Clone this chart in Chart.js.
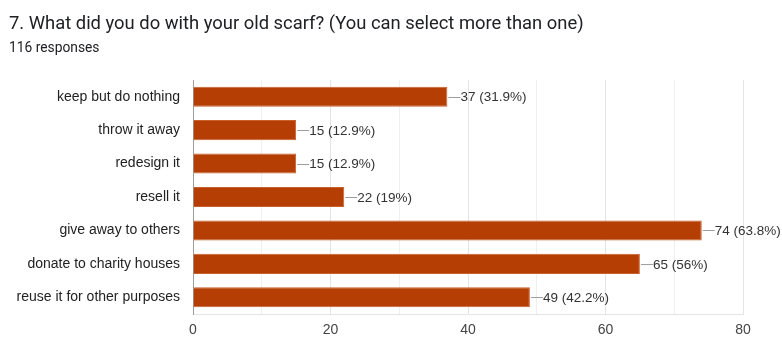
<!DOCTYPE html>
<html>
<head>
<meta charset="utf-8">
<script src="https://cdn.jsdelivr.net/npm/chart.js@4.4.1/dist/chart.umd.min.js"></script>
<style>
html,body{margin:0;padding:0;background:#fff;}
body{width:782px;height:338px;position:relative;overflow:hidden;font-family:Roboto,"Liberation Sans",Arial,sans-serif;}
#title{position:absolute;left:9px;top:12px;font-size:18.4px;color:#202124;white-space:nowrap;}
#sub{position:absolute;left:9px;top:39px;font-size:13.8px;color:#202124;white-space:nowrap;}
#wrap{position:absolute;left:0;top:0;width:782px;height:338px;}
</style>
</head>
<body>
<div id="wrap"><canvas id="c" width="782" height="338"></canvas></div>
<div id="title">7. What did you do with your old scarf? (You can select more than one)</div>
<div id="sub">116 responses</div>
<script>
const categories = ["keep but do nothing","throw it away","redesign it","resell it","give away to others","donate to charity houses","reuse it for other purposes"];
const counts = [37,15,15,22,74,65,49];
const percentLabels = ["31.9%","12.9%","12.9%","19%","63.8%","56%","42.2%"];
const xTicks = [0,20,40,60,80];
const FONT = '"Liberation Sans", Arial, sans-serif';

const valueLabels = {
  id:'valueLabels',
  afterDatasetsDraw(chart){
    const ctx = chart.ctx;
    const meta = chart.getDatasetMeta(0);
    ctx.save();
    ctx.font = '13.5px ' + FONT;
    ctx.textBaseline = 'middle';
    ctx.textAlign = 'left';
    meta.data.forEach((bar,i)=>{
      const x = bar.x, y = bar.y;
      ctx.strokeStyle = '#9e9e9e';
      ctx.lineWidth = 1;
      ctx.beginPath();
      ctx.moveTo(x+1, Math.round(y)+0.5);
      ctx.lineTo(x+13, Math.round(y)+0.5);
      ctx.stroke();
      ctx.fillStyle = '#333333';
      ctx.fillText(counts[i] + ' (' + percentLabels[i] + ')', x+13, y+1);
    });
    ctx.restore();
  }
};

new Chart(document.getElementById('c'), {
  type:'bar',
  data:{
    labels: categories,
    datasets:[{
      data: counts,
      backgroundColor:'#b43e04',
      borderColor:'#c8602e',
      borderWidth:1,
      borderSkipped:'left',
      barPercentage:0.6,
      categoryPercentage:1.0
    }]
  },
  options:{
    indexAxis:'y',
    responsive:false,
    animation:false,
    devicePixelRatio:1,
    layout:{padding:{top:80,right:39,bottom:0,left:0}},
    plugins:{legend:{display:false},tooltip:{enabled:false}},
    scales:{
      x:{
        min:0,max:80,
        ticks:{
          stepSize:10,
          autoSkip:false,
          maxRotation:0,
          padding:8,
          color:'#444',
          font:{family:FONT,size:14},
          callback:(v)=> xTicks.includes(v) ? String(v) : ''
        },
        grid:{
          drawTicks:false,
          color:(c)=> c.tick && c.tick.value===0 ? 'rgba(0,0,0,0)' : (c.tick && c.tick.value%20===0 ? '#e4e4e4' : '#f0f0f0')
        },
        border:{display:true,color:'#e4e4e4'},
        afterFit:(s)=>{ s.height = 24; }
      },
      y:{
        ticks:{
          padding:13,
          color:'#222',
          font:{family:FONT,size:14}
        },
        grid:{display:false,drawTicks:false},
        border:{display:true,color:'#9e9e9e'},
        afterFit:(s)=>{ s.width = 193; }
      }
    }
  },
  plugins:[valueLabels]
});
</script>
</body>
</html>
